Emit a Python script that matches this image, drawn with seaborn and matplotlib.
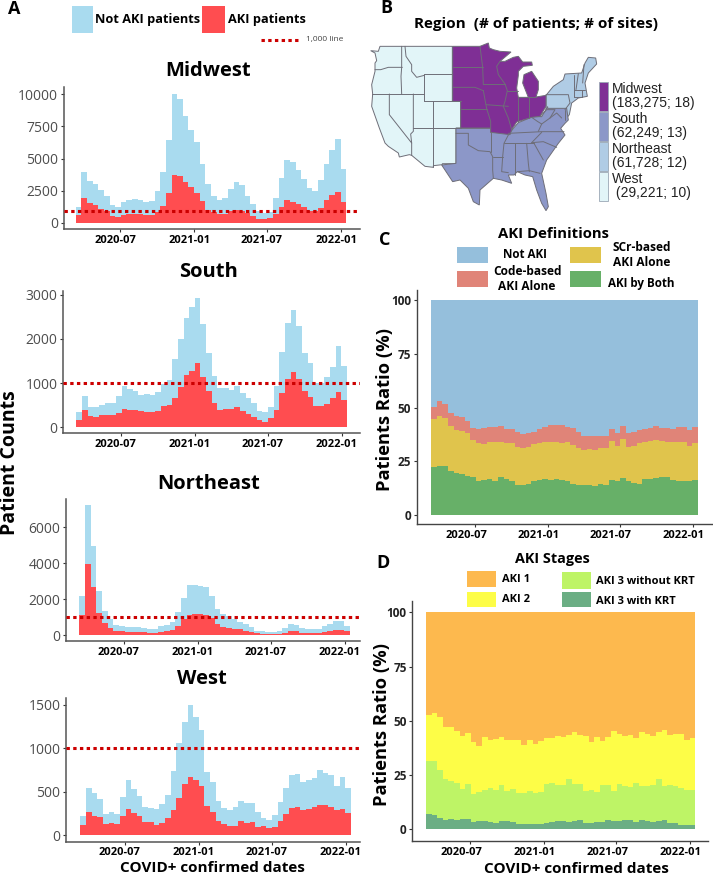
import numpy as np
import pandas as pd
import matplotlib
matplotlib.use("Agg")
import matplotlib.pyplot as plt
import matplotlib.dates as mdates
from matplotlib.patches import Rectangle, Polygon
from matplotlib.transforms import ScaledTranslation
import seaborn as sns

W, H = 713, 876

# biweekly bins, 2020-03-13 to 2022-01-15
start = pd.Timestamp("2020-03-13")
edges = [mdates.date2num(start + pd.Timedelta(days=14 * i)) for i in range(49)]
centers = [e + 7 for e in edges[:-1]]
tick_dates = ["2020-07-01", "2021-01-01", "2021-07-01", "2022-01-01"]
tick_labels = ["2020-07", "2021-01", "2021-07", "2022-01"]

# panel A, total height of the blue bars and the red (AKI) bars
midwest_total = [1250, 3950, 3250, 3050, 2550, 2050, 1350, 1250, 1650, 1800, 1850, 1800, 1600, 1700, 2450, 3950,
                 6450, 10050, 9650, 8350, 7250, 6300, 4600, 3050, 2100, 1750, 1950, 2650, 3150, 2950, 2100, 1450,
                 900, 750, 800, 1950, 3450, 4850, 4750, 4100, 3400, 2700, 2500, 3300, 4600, 5650, 6500, 4150]
midwest_aki = [600, 1900, 1550, 1350, 1100, 900, 550, 450, 600, 650, 700, 700, 600, 600, 850, 1300,
               2300, 3700, 3650, 3200, 2800, 2300, 1700, 1000, 800, 650, 650, 950, 1000, 900, 750, 500,
               300, 250, 400, 700, 1200, 1750, 1650, 1450, 1250, 950, 950, 1150, 1800, 2150, 2400, 1600]
south_total = [350, 710, 450, 470, 510, 550, 560, 700, 930, 870, 820, 730, 750, 720, 800, 980,
               1080, 1540, 1990, 2480, 2730, 2930, 2330, 1680, 1150, 880, 900, 840, 940, 780, 660, 540,
               370, 340, 470, 930, 1710, 2350, 2650, 2290, 1690, 1450, 1000, 1000, 1130, 1370, 1840, 1390]
south_aki = [160, 380, 250, 230, 270, 270, 270, 320, 410, 380, 380, 360, 350, 350, 360, 480,
             510, 670, 920, 1180, 1270, 1460, 1130, 820, 550, 400, 420, 420, 450, 360, 290, 240,
             170, 130, 220, 400, 770, 1090, 1250, 1100, 820, 680, 480, 490, 520, 660, 800, 620]
northeast_total = [2150, 7200, 4950, 2450, 1350, 900, 550, 500, 450, 450, 450, 380, 350, 350, 500, 550,
                   700, 1300, 2050, 2800, 2800, 2750, 2650, 2150, 1450, 1150, 1050, 900, 750, 600, 450, 250,
                   200, 150, 150, 200, 400, 600, 550, 400, 330, 330, 350, 500, 600, 780, 800, 480]
northeast_aki = [1100, 3950, 2650, 1200, 650, 400, 230, 200, 170, 150, 170, 150, 130, 130, 170, 200,
                 270, 480, 900, 1130, 1150, 1150, 1100, 950, 600, 450, 400, 350, 320, 220, 170, 100,
                 70, 50, 50, 60, 120, 220, 200, 130, 110, 110, 130, 170, 230, 300, 300, 200]
west_total = [220, 540, 480, 410, 240, 260, 240, 440, 640, 530, 450, 320, 310, 300, 360, 460,
              740, 1060, 1300, 1500, 1360, 1210, 730, 610, 390, 310, 290, 320, 390, 370, 375, 260,
              200, 170, 230, 380, 540, 690, 700, 610, 630, 660, 750, 710, 690, 560, 670, 540]
west_aki = [110, 260, 220, 205, 125, 135, 125, 220, 300, 250, 215, 145, 150, 120, 140, 200,
            290, 430, 590, 670, 640, 560, 330, 260, 160, 130, 100, 100, 160, 135, 150, 90,
            100, 80, 95, 160, 240, 310, 325, 290, 300, 320, 350, 345, 320, 285, 305, 250]
line_level = [940, 1000, 1000, 1000]

# panel C, cumulative tops of each band (%)
both_top = [22.2, 22.9, 22.7, 20.5, 19.3, 19, 18, 17.5, 15.8, 16.3, 16.8, 15.7, 17.5, 16.5, 15.5, 14,
            14, 14.3, 15.5, 16, 16.5, 16, 16.5, 16, 15.7, 14.5, 14, 14, 14, 13.3, 14.5, 13.8,
            16, 15.5, 17.3, 15.8, 15, 14.5, 16.5, 16.7, 17, 17.5, 17.8, 16.3, 15.5, 15.5, 15.5, 16.3]
scr_top = [44.5, 46.3, 45, 41.5, 39.5, 39, 38, 34.8, 33.5, 33.2, 34, 33.7, 34, 33.5, 33.5, 31.5,
           31, 31.5, 33, 33.5, 34, 34, 34, 33.5, 33.7, 32.5, 31, 30, 30.5, 30, 31, 31.3,
           34.5, 32, 35.3, 31.5, 32, 33.5, 34, 34.5, 35, 34.3, 34, 34, 34, 34, 32, 33.5]
code_top = [50.5, 53, 51.7, 47.5, 46, 45.5, 43.5, 40.5, 40, 40.3, 41, 40.8, 41.5, 40, 39.8, 38.5,
            37.5, 38, 38.5, 40, 41, 41.7, 41.8, 41.8, 41, 40.5, 38.5, 36.5, 36.5, 36.8, 36.5, 36.5,
            40, 38, 41.5, 38, 38.5, 39.5, 40, 40.5, 41.5, 40.5, 40.5, 40, 41, 41, 39.5, 41]
def_names = ["Not AKI", "Code-based AKI Alone", "SCr-based AKI Alone", "AKI by Both"]
def_colors = ["#95BFDC", "#E08478", "#E0C44C", "#67B068"]

# panel D, cumulative tops of each band (%)
krt_top = [7, 6.7, 5, 4.2, 4.7, 4.4, 4.7, 4.7, 3.5, 3.7, 3.7, 3.4, 3.1, 3.9, 3.6, 3.2,
           2.5, 2.3, 2.6, 2.6, 2.3, 3, 3.2, 3.8, 3.7, 3.5, 3.7, 4.1, 3.1, 2.8, 3.5, 3.2,
           4.4, 4, 3.8, 4.5, 4.4, 3.3, 4.1, 3.6, 3.3, 4, 4.3, 3, 3, 2.2, 2.2, 1.9]
nokrt_top = [31.3, 31.3, 27.5, 23.2, 22.3, 21.5, 18.5, 21, 16.3, 17, 18.3, 18.8, 18.3, 20.5, 17.6, 18.5,
             16.5, 16.7, 17.5, 16.8, 17, 21, 21.5, 20.3, 20.3, 23.3, 21, 21, 17.8, 18, 17, 20.2,
             20.2, 17.5, 20.7, 20, 19.3, 21.2, 20, 20.1, 20.3, 23.3, 20, 20.5, 20, 19, 18, 18]
aki2_top = [52.7, 53.5, 51.8, 47, 47.3, 45.5, 43, 44.5, 40, 38.5, 42.5, 41.2, 41.5, 42.3, 41, 41,
            41, 38.8, 41, 39.5, 40.5, 42, 42, 43, 42.3, 43.3, 45, 43.5, 43, 40, 42.7, 40.5,
            42.5, 45.2, 43.7, 43, 43.3, 42, 44.8, 44, 43.2, 44.8, 45.8, 43.3, 43.8, 43.7, 41, 42]
stage_names = ["AKI 1", "AKI 2", "AKI 3 without KRT", "AKI 3 with KRT"]
stage_colors = ["#FDB94E", "#FDFD47", "#BEF466", "#6BAE84"]

# panel B, region table
region_names = ["Midwest", "South", "Northeast", "West"]
region_notes = ["(183,275; 18)", "(62,249; 13)", "(61,728; 12)", " (29,221; 10)"]
region_colors = ["#7F2F95", "#8C97C8", "#B0CCE5", "#E2F5F8"]

# hand traced map outlines, one list per crop of the map
# west crop
west_shape = [(30, 25), (247, 25), (247, 190), (272, 190), (272, 270), (258, 270), (258, 377), (217, 377), (217, 380),
              (190, 383), (190, 388), (165, 385), (125, 352), (118, 350), (88, 357), (85, 345), (55, 325), (45, 315),
              (28, 270), (5, 205), (8, 168), (5, 140), (15, 100), (15, 75), (20, 68), (15, 45), (2, 38), (25, 40)]
west_lines = [[(15, 95), (32, 95), (55, 88), (97, 88)], [(95, 25), (95, 88), (93, 115), (95, 168)], [(5, 168), (163, 168)],
              [(105, 25), (108, 55), (125, 80), (125, 100), (140, 118), (163, 112)], [(163, 107), (163, 190)],
              [(163, 107), (247, 107)], [(163, 190), (272, 190)], [(190, 190), (190, 388)], [(130, 270), (272, 270)],
              [(130, 168), (130, 280), (122, 288), (125, 315), (125, 352)], [(58, 168), (58, 230), (125, 315)]]
# north crop
midwest_shape = [(8, 25), (90, 25), (115, 15), (118, 30), (130, 35), (150, 40), (183, 42), (150, 70), (165, 70), (190, 58),
                 (205, 55), (218, 72), (245, 72), (247, 82), (220, 85), (205, 100), (205, 112), (200, 150), (205, 178),
                 (235, 178), (218, 135), (222, 110), (245, 100), (265, 130), (265, 155), (258, 177), (288, 172), (288, 205),
                 (270, 235), (245, 238), (200, 252), (185, 275), (180, 290), (122, 283), (122, 270), (32, 270), (32, 190), (8, 190)]
midwest_lines = [[(8, 88), (98, 88)], [(8, 148), (75, 148), (100, 158)], [(90, 25), (98, 88), (100, 140)], [(98, 138), (165, 138)],
                 [(32, 212), (110, 212)], [(100, 158), (110, 212), (122, 250), (122, 270)], [(108, 200), (175, 205)],
                 [(150, 70), (140, 85), (145, 110), (165, 138), (172, 158), (165, 190), (160, 205), (175, 240), (185, 275)],
                 [(172, 158), (203, 158)], [(205, 178), (205, 252)], [(237, 178), (237, 240)], [(205, 177), (258, 177)]]
northeast_shape = [(288, 172), (310, 145), (340, 125), (345, 108), (395, 105), (405, 75), (415, 58), (437, 60), (440, 78),
                   (415, 105), (405, 135), (412, 175), (385, 180), (365, 195), (358, 230), (350, 240), (345, 215), (288, 215)]
northeast_lines = [[(288, 170), (355, 170), (360, 195), (345, 215)], [(372, 110), (372, 178)], [(385, 107), (378, 155)],
                   [(402, 80), (398, 135)], [(372, 155), (405, 155)], [(372, 178), (395, 178)], [(397, 155), (397, 178)]]
upper_south_lines = [[(245, 238), (262, 250), (275, 258), (265, 280)], [(270, 235), (290, 215), (315, 215), (300, 240), (275, 258)],
                     [(300, 240), (320, 225), (335, 240)], [(345, 215), (345, 245)]]
# south crop
south_shape = [(48, 25), (152, 25), (152, 37), (205, 37), (205, 45), (220, 25), (235, 8), (278, -10), (305, -10), (323, -40),
               (323, -35), (380, -35), (385, 0), (375, 10), (362, 25), (375, 45), (355, 70), (320, 120), (305, 160), (318, 220),
               (325, 260), (318, 272), (305, 250), (290, 210), (278, 170), (255, 165), (232, 155), (222, 165), (205, 165),
               (215, 190), (185, 180), (160, 175), (120, 210), (118, 255), (100, 245), (85, 205), (60, 180), (38, 185),
               (5, 135), (48, 130)]
south_lines = [[(48, 40), (85, 40), (85, 75), (115, 92), (150, 95), (158, 110), (158, 150), (160, 175)], [(152, 37), (152, 95)],
               [(158, 110), (190, 110)], [(205, 45), (192, 70), (188, 110), (185, 155), (205, 158)], [(225, 70), (225, 165)],
               [(260, 70), (265, 130), (268, 155)], [(232, 155), (268, 152), (300, 160)], [(282, 70), (310, 120)],
               [(275, 68), (310, 65), (350, 82)], [(192, 70), (282, 70)], [(205, 40), (305, 35), (372, 35)], [(275, 68), (305, 37)]]
# crop offsets, map units
west_crop = (0, 114)
north_crop = (240, 114)
south_crop = (210, 360)

sns.set_theme(style="ticks")
plt.rcParams["font.family"] = ["Open Sans", "DejaVu Sans"]

fig = plt.figure(figsize=(W / 100, H / 100), dpi=100)


def make_ax(left, top, right, bottom):
    return fig.add_axes([left / W, 1 - bottom / H, (right - left) / W, (bottom - top) / H])


def fig_text(x, y, s, **kw):
    kw.setdefault("ha", "center")
    kw.setdefault("va", "center")
    kw.setdefault("fontweight", "bold")
    kw.setdefault("color", "black")
    fig.text(x / W, 1 - y / H, s, **kw)


def swatch(x0, y0, x1, y1, color):
    fig.add_artist(Rectangle((x0 / W, 1 - y1 / H), (x1 - x0) / W, (y1 - y0) / H, color=color,
                             transform=fig.transFigure, lw=0))


def set_x(ax, left, right, jul_px, per_day, label_shift):
    jul = mdates.date2num(pd.Timestamp("2020-07-01"))
    ax.set_xlim(jul - (jul_px - left) / per_day, jul + (right - jul_px) / per_day)
    ax.set_xticks([mdates.date2num(pd.Timestamp(d)) for d in tick_dates])
    ax.set_xticklabels(tick_labels, fontweight="bold", fontsize=8, color="black")
    ax.tick_params(axis="x", length=2, width=0.8, pad=2, color="#333333")
    # the date labels sit a little left of their ticks in the reference
    off = ScaledTranslation(-label_shift / 100, 0, fig.dpi_scale_trans)
    for lab in ax.get_xticklabels():
        lab.set_transform(lab.get_transform() + off)
    ax.set_xlabel("")
    ax.set_ylabel("")
    sns.despine(ax=ax)


# panel A
a_boxes = [(63.5, 87, 360, 229), (63, 291, 360, 433.3), (65.7, 499, 360, 641), (66, 698, 360, 841.7)]
a_jul = [120, 120.7, 123.7, 124.7]
a_ylims = [(-490, 10570), (-136, 3084), (-333, 7556), (-77, 1580)]
a_yticks = [[0, 2500, 5000, 7500, 10000], [0, 1000, 2000, 3000], [0, 2000, 4000, 6000], [0, 500, 1000, 1500]]
a_data = [(midwest_total, midwest_aki), (south_total, south_aki), (northeast_total, northeast_aki), (west_total, west_aki)]
a_titles = [("Midwest", 208, 71), ("South", 209, 272), ("Northeast", 209, 484), ("West", 202, 679)]

for i, box in enumerate(a_boxes):
    ax = make_ax(*box)
    total, aki = a_data[i]
    sns.histplot(x=centers, weights=total, bins=edges, element="step", color="#A9DBEF", alpha=1, linewidth=0, ax=ax)
    sns.histplot(x=centers, weights=aki, bins=edges, element="step", color="#FF4D50", alpha=1, linewidth=0, ax=ax)
    ax.axhline(line_level[i], color="#CC0000", lw=2.2, ls=(0, (1.1, 1.1)), zorder=5)
    set_x(ax, box[0], box[2], a_jul[i], 0.4026, 5)
    ax.set_ylim(*a_ylims[i])
    ax.set_yticks(a_yticks[i])
    ax.set_yticklabels(a_yticks[i], fontsize=10, color="#4d4d4d")
    ax.tick_params(axis="y", length=2, width=0.8, pad=2, color="#333333")
    for s in ["left", "bottom"]:
        ax.spines[s].set_color("#555555")
        ax.spines[s].set_linewidth(1.1)
    name, tx, ty = a_titles[i]
    fig_text(tx, ty, name, fontsize=14.5)

fig_text(14, 9, "A", fontsize=13)
swatch(72, 6, 93, 33, "#A9DBEF")
swatch(202, 6, 225, 33, "#FF4D50")
fig_text(148, 20, "Not AKI patients", fontsize=9.2)
fig_text(267, 20, "AKI patients", fontsize=9.2)
fig.add_artist(plt.Line2D([261 / W, 300 / W], [1 - 40 / H, 1 - 40 / H], color="#CC0000", lw=2.2, ls=(0, (1.1, 1.1))))
fig_text(306, 40, "1,000 line", fontsize=6, fontweight="normal", color="#444444", ha="left")
fig_text(10, 463, "Patient Counts", fontsize=14, rotation=90)
fig_text(212, 868, "COVID+ confirmed dates", fontsize=11)

# panel B
ax_map = make_ax(370, 0, 713, 220)
ax_map.set_xlim(0, 1029)
ax_map.set_ylim(660, 0)
ax_map.axis("off")


def shifted(points, crop):
    return [(x + crop[0], y + crop[1]) for x, y in points]


edge = "#6e6e78"
map_shapes = [(west_shape, west_crop, region_colors[3]), (northeast_shape, north_crop, region_colors[2]),
              (south_shape, south_crop, region_colors[1]), (midwest_shape, north_crop, region_colors[0])]
for shape, crop, c in map_shapes:
    ax_map.add_patch(Polygon(shifted(shape, crop), closed=True, facecolor=c, edgecolor=edge, lw=0.7))
map_lines = [(west_lines, west_crop), (midwest_lines, north_crop), (northeast_lines, north_crop),
             (upper_south_lines, north_crop), (south_lines, south_crop)]
for lines, crop in map_lines:
    for seg in lines:
        xs, ys = zip(*shifted(seg, crop))
        ax_map.plot(xs, ys, color=edge, lw=0.7)
for i, name in enumerate(region_names):
    y0 = 245 + i * 90
    ax_map.add_patch(Rectangle((686, y0), 29, 87, facecolor=region_colors[i], edgecolor="#9aa7b5", lw=0.6))
    ax_map.text(725, y0 + 21, name, fontsize=10, family="Liberation Sans", color="#222222", va="center")
    ax_map.text(725, y0 + 63, region_notes[i], fontsize=10, family="Liberation Sans", color="#222222", va="center")
fig_text(386, 8, "B", fontsize=13)
fig_text(536, 24, "Region  (# of patients; # of sites)", fontsize=11)

# panel C
ax_c = make_ax(416.7, 290, 711.7, 524.3)
tops = [100 - np.array(code_top), np.array(code_top) - np.array(scr_top),
        np.array(scr_top) - np.array(both_top), np.array(both_top)]
df_c = pd.DataFrame({"date": centers * 4, "pct": np.concatenate(tops),
                     "group": np.repeat(def_names, 48)})
sns.histplot(data=df_c, x="date", weights="pct", hue="group", hue_order=def_names, palette=def_colors,
             multiple="stack", bins=edges, element="step", alpha=1, linewidth=0, legend=False, ax=ax_c)
set_x(ax_c, 416.7, 711.7, 475, 0.3965, 9)
ax_c.set_ylim(-4.5, 104.9)

# panel D
ax_d = make_ax(412.3, 601, 708, 841)
tops = [100 - np.array(aki2_top), np.array(aki2_top) - np.array(nokrt_top),
        np.array(nokrt_top) - np.array(krt_top), np.array(krt_top)]
df_d = pd.DataFrame({"date": centers * 4, "pct": np.concatenate(tops),
                     "group": np.repeat(stage_names, 48)})
sns.histplot(data=df_d, x="date", weights="pct", hue="group", hue_order=stage_names, palette=stage_colors,
             multiple="stack", bins=edges, element="step", alpha=1, linewidth=0, legend=False, ax=ax_d)
set_x(ax_d, 412.3, 708, 470, 0.4007, 9)
ax_d.set_ylim(-5.4, 105.2)

for ax in [ax_c, ax_d]:
    ax.set_yticks([0, 25, 50, 75, 100])
    ax.set_yticklabels([0, 25, 50, 75, 100], fontsize=8.5, fontweight="bold", color="#222222")
    ax.tick_params(axis="y", length=2, width=0.8, pad=2, color="#333333")
    for s in ["left", "bottom"]:
        ax.spines[s].set_color("#444444")
        ax.spines[s].set_linewidth(1)

fig_text(385, 240, "C", fontsize=13)
fig_text(554, 234, "AKI Definitions", fontsize=10.7)
swatch(457, 247, 488, 263, def_colors[0])
swatch(457, 271, 488, 287, def_colors[1])
swatch(570, 247, 601, 263, def_colors[2])
swatch(570, 271, 601, 287, def_colors[3])
fig_text(525, 255, "Not AKI", fontsize=8.4)
fig_text(527, 279, "Code-based\nAKI Alone", fontsize=8.6)
fig_text(642, 255, "SCr-based\nAKI Alone", fontsize=8.6)
fig_text(641, 283, "AKI by Both", fontsize=8.4)
fig_text(385, 410, "Patients Ratio (%)", fontsize=13.2, rotation=90)

fig_text(383, 563, "D", fontsize=13)
fig_text(552, 559, "AKI Stages", fontsize=10.4)
swatch(467, 571, 496, 587, stage_colors[0])
swatch(467, 592, 496, 607, stage_colors[1])
swatch(562, 572, 591, 589, stage_colors[2])
swatch(562, 592, 591, 607, stage_colors[3])
fig_text(502, 580, stage_names[0], fontsize=8, ha="left")
fig_text(502, 600, stage_names[1], fontsize=8, ha="left")
fig_text(596, 582, stage_names[2], fontsize=8, ha="left")
fig_text(596, 601, stage_names[3], fontsize=8, ha="left")
fig_text(382, 725, "Patients Ratio (%)", fontsize=13.2, rotation=90)
fig_text(576, 869, "COVID+ confirmed dates", fontsize=11)

fig.savefig("out.png", dpi=100)
